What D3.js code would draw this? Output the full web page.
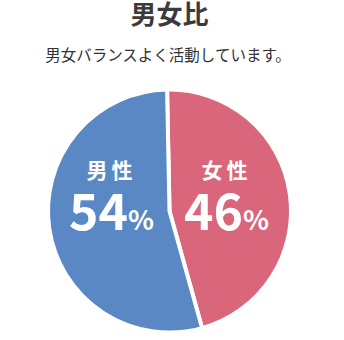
<!DOCTYPE html>
<html>
<head>
  <meta charset="utf-8">
  <title>男女比</title>
  <script src="https://d3js.org/d3.v7.min.js"></script>
  <style>
    body { margin: 0; background: #fff; }
    text { font-family: "Noto Sans CJK JP", "Noto Sans", sans-serif; }
  </style>
</head>
<body>
<div id="chart"></div>
<script>
  // data
  var categories = ["女性", "男性"];
  var values = [46, 54];
  var colors = ["#d9667a", "#5a88c4"];

  var width = 344, height = 340;
  var cx = 169.5, cy = 211, radius = 121.5;

  var svg = d3.select("#chart")
    .append("svg")
    .attr("width", width)
    .attr("height", height);

  // title + subtitle
  svg.append("text")
    .attr("x", 169.5)
    .attr("y", 24)
    .attr("text-anchor", "middle")
    .attr("font-size", 26)
    .attr("font-weight", 700)
    .attr("fill", "#3b3b3b")
    .text("男女比");

  svg.append("text")
    .attr("x", 168)
    .attr("y", 61)
    .attr("text-anchor", "middle")
    .attr("font-size", 15.5)
    .attr("fill", "#333")
    .text("男女バランスよく活動しています。");

  var pie = d3.pie().sort(null).startAngle(-0.02).endAngle(2 * Math.PI - 0.02);
  var arcs = pie(values);
  var arc = d3.arc().innerRadius(0).outerRadius(radius);

  var g = svg.append("g")
    .attr("transform", "translate(" + cx + "," + cy + ")");

  g.selectAll("path")
    .data(arcs)
    .enter()
    .append("path")
    .attr("d", arc)
    .attr("fill", function(d, i) { return colors[i]; })
    .attr("stroke", "#fff")
    .attr("stroke-width", 4)
    .attr("stroke-linejoin", "miter");

  // labels: female on the right, male on the left
  var labelX = [57, -58];

  var labels = g.selectAll(".lbl")
    .data(arcs)
    .enter()
    .append("g")
    .attr("class", "lbl")
    .attr("transform", function(d, i) { return "translate(" + labelX[i] + ",0)"; });

  labels.append("text")
    .attr("y", -33)
    .attr("text-anchor", "middle")
    .attr("font-size", 21)
    .attr("font-weight", 700)
    .attr("letter-spacing", 4)
    .attr("fill", "#fff")
    .text(function(d, i) { return categories[i]; });

  var num = labels.append("text")
    .attr("y", 19)
    .attr("text-anchor", "middle")
    .attr("font-weight", 700)
    .attr("fill", "#fff");

  num.append("tspan")
    .attr("font-size", 50)
    .text(function(d) { return d.data; });

  num.append("tspan")
    .attr("font-size", 27)
    .text("%");
</script>
</body>
</html>
